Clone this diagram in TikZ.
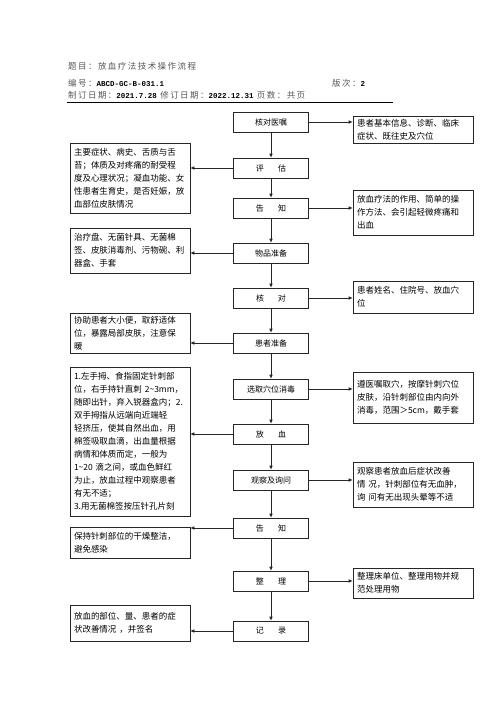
\documentclass[tikz,border=0pt]{standalone}
\usepackage{fontspec}
\usepackage{tikz}
\usetikzlibrary{arrows.meta}
\newfontfamily\cjk{Noto Sans CJK SC}
\newfontfamily\cjkhead[LetterSpace=17]{Noto Sans CJK SC}
\newfontfamily\monob{Liberation Mono}
\newcommand{\headnum}[1]{{\monob\bfseries\color{black}\fontsize{7.5}{9}\selectfont #1}}

\tikzset{
  stepbox/.style={draw=black!85, line width=0.6pt, minimum width=75, minimum height=20,
    inner sep=1pt, font=\cjk\fontsize{8}{10}\selectfont},
  notebox/.style={draw=black!85, line width=0.6pt, text width=112, align=left,
    inner xsep=4, inner ysep=3, font=\cjk\fontsize{8.5}{13}\selectfont},
  flow/.style={-{Latex[length=4pt,width=3.5pt]}, line width=0.6pt, black!85},
  headtext/.style={anchor=base west, inner sep=0, text=black!65,
    font=\cjkhead\fontsize{8.5}{10}\selectfont},
}

\begin{document}
\begin{tikzpicture}[x=1pt, y=-1pt]

\fill[white] (0,0) rectangle (496,702);

% header
\node[headtext] (title) at (68,69) {题目：放血疗法技术操作流程};
\node[headtext] (code) at (68,86) {编号：\headnum{ABCD-GC-B-031.1}};
\node[headtext] (version) at (332,86) {版次：\headnum{2}};
\node[headtext] (dates) at (68,98) {制订日期：\headnum{2021.7.28} 修订日期：\headnum{2022.12.31} 页数：共页};
\draw[line width=0.8pt] (67,102) -- (393,102);

% main steps
\node[stepbox] (hedui) at (271,122) {核对医嘱};
\node[stepbox] (pinggu) at (271,168) {评\hspace{1.8em}估};
\node[stepbox] (gaozhi) at (271,208) {告\hspace{1.8em}知};
\node[stepbox] (wupin) at (271,253) {物品准备};
\node[stepbox] (hedui2) at (271,298) {核\hspace{1.7em}对};
\node[stepbox] (huanzhe) at (271,343) {患者准备};
\node[stepbox] (xuanxue) at (271,389) {选取穴位消毒};
\node[stepbox] (fangxue) at (271,434) {放\hspace{1.8em}血};
\node[stepbox] (guancha) at (271,480) {观察及询问};
\node[stepbox] (gaozhi2) at (271,528) {告\hspace{1.8em}知};
\node[stepbox] (zhengli) at (271,581) {整\hspace{1.8em}理};
\node[stepbox] (jilu) at (271,631) {记\hspace{1.8em}录};

\foreach \a/\b in {hedui/pinggu, pinggu/gaozhi, gaozhi/wupin, wupin/hedui2,
  hedui2/huanzhe, huanzhe/xuanxue, xuanxue/fangxue, fangxue/guancha,
  guancha/gaozhi2, gaozhi2/zhengli, zhengli/jilu}
  \draw[flow] (\a) -- (\b);

% notes on the left
\node[notebox, minimum height=70] (pinggunote) at (130,178)
  {主要症状、病史、舌质与舌\\苔；体质及对疼痛的耐受程\\度及心理状况；凝血功能、女\\性患者生育史，是否妊娠，放\\血部位皮肤情况};
\node[notebox, minimum height=45] (wupinnote) at (130,250.5)
  {治疗盘、无菌针具、无菌棉\\签、皮肤消毒剂、污物碗、利\\器盒、手套};
\node[notebox, minimum height=40] (huanzhenote) at (130,333)
  {协助患者大小便，取舒适体\\位，暴露局部皮肤，注意保\\暖};
\node[notebox, minimum height=149] (fangxuenote) at (130,441.5)
  {1.左手拇、食指固定针刺部\\位，右手持针直刺 2\textasciitilde3mm，\\随即出针，弃入锐器盒内；2.\\双手拇指从远端向近端轻\\轻挤压，使其自然出血，用\\棉签吸取血滴，出血量根据\\病情和体质而定，一般为\\1\textasciitilde20 滴之间，或血色鲜红\\为止，放血过程中观察患者\\有无不适；\\3.用无菌棉签按压针孔片刻};
\node[notebox, minimum height=31] (gaozhinote2) at (130,542.5)
  {保持针刺部位的干燥整洁，\\避免感染};
\node[notebox, minimum height=36] (jilunote) at (130,623)
  {放血的部位、量、患者的症\\状改善情况 ，并签名};

% notes on the right
\node[notebox, minimum height=26] (heduinote) at (413,130)
  {患者基本信息、诊断、临床\\症状、既往史及穴位};
\node[notebox, minimum height=45] (gaozhinote) at (413,212.5)
  {放血疗法的作用、简单的操\\作方法、会引起轻微疼痛和\\出血};
\node[notebox, minimum height=32] (heduinote2) at (413,297)
  {患者姓名、住院号、放血穴\\位};
\node[notebox, minimum height=51] (xuanxuenote) at (413,397.5)
  {遵医嘱取穴，按摩针刺穴位\\皮肤，沿针刺部位由内向外\\消毒，范围＞5cm，戴手套};
\node[notebox, minimum height=45] (guanchanote) at (413,484.5)
  {观察患者放血后症状改善\\情\ 况，针刺部位有无血肿，\\询\ 问有无出现头晕等不适};
\node[notebox, minimum height=30] (zhenglinote) at (413,583)
  {整理床单位、整理用物并规\\范处理用物};

% side arrows
\draw[flow] (pinggu.west) -- (pinggu.west -| pinggunote.east);
\draw[flow] (wupin.west) -- (wupin.west -| wupinnote.east);
\draw[flow] (huanzhe.west) -- (huanzhe.west -| huanzhenote.east);
\draw[flow] (fangxue.west) -- (fangxue.west -| fangxuenote.east);
\draw[flow] (gaozhi2.west) -- (gaozhi2.west -| gaozhinote2.east);
\draw[flow] (jilu.west) -- (jilu.west -| jilunote.east);
\draw[flow] (hedui.east) -- (hedui.east -| heduinote.west);
\draw[flow] (gaozhi.east) -- (gaozhi.east -| gaozhinote.west);
\draw[flow] (hedui2.east) -- (hedui2.east -| heduinote2.west);
\draw[flow] (xuanxue.east) -- (xuanxue.east -| xuanxuenote.west);
\draw[flow] (guancha.east) -- (guancha.east -| guanchanote.west);
\draw[flow] (zhengli.east) -- (zhengli.east -| zhenglinote.west);

\end{tikzpicture}
\end{document}
